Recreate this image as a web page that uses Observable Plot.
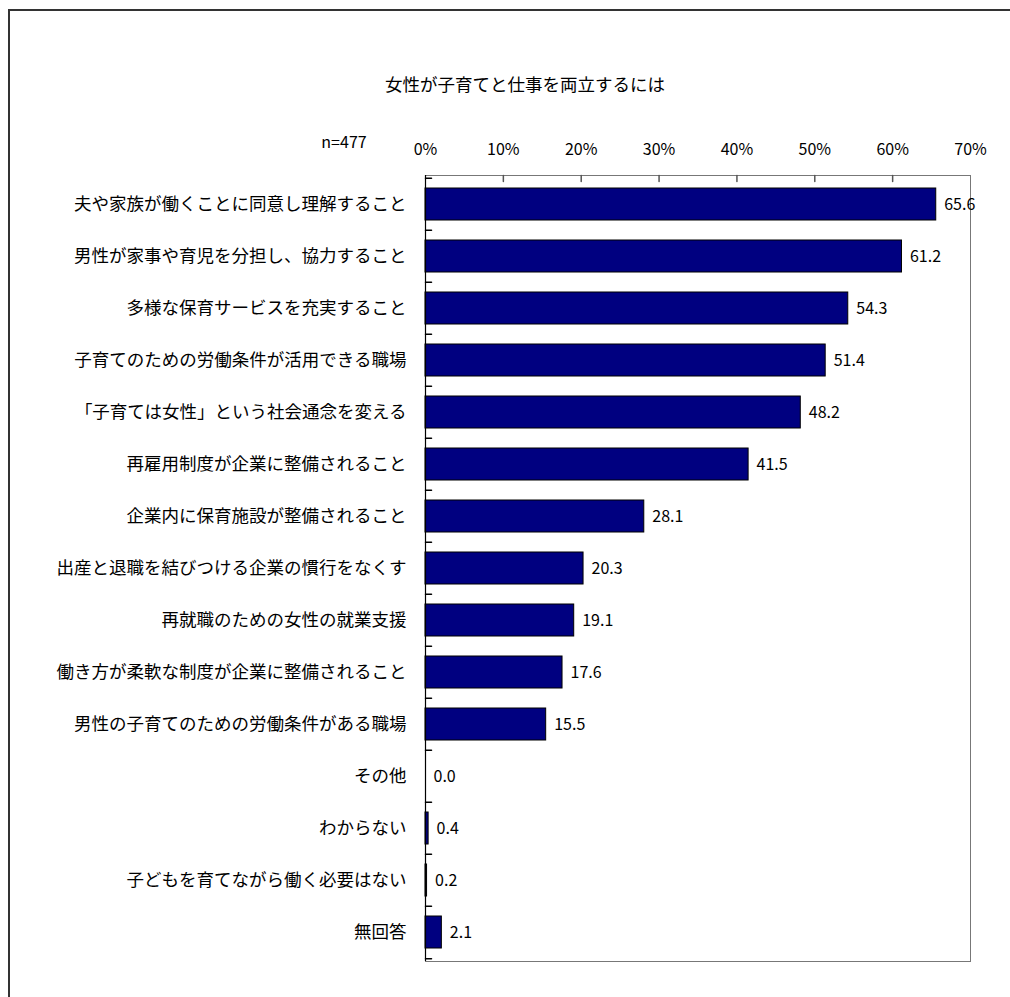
<!DOCTYPE html>
<html>
<head>
<meta charset="utf-8">
<script src="https://cdn.jsdelivr.net/npm/d3@7"></script>
<script src="https://cdn.jsdelivr.net/npm/@observablehq/plot@0.6"></script>
<style>
  html, body { margin: 0; padding: 0; background: #fff; overflow: hidden; }
  #wrap { position: relative; width: 1010px; height: 997px; overflow: hidden; font-family: "Noto Sans CJK JP", sans-serif; }
  #bTop { position: absolute; left: 8px; top: 9px; width: 1100px; height: 2px; background: #333; }
  #bLeft { position: absolute; left: 8px; top: 9px; width: 2px; height: 1100px; background: #333; }
  #header { position: relative; height: 120px; }
  #title { position: absolute; left: 0; width: 1050px; top: 71px; text-align: center; font-size: 17.5px; color: #000; }
  #n { position: absolute; left: 306px; top: 129px; width: 76px; text-align: center; font-size: 16px; color: #000; }
  #chart svg { display: block; }
</style>
</head>
<body>
<div id="wrap">
  <div id="bTop"></div>
  <div id="bLeft"></div>
  <div id="header">
    <div id="title">女性が子育てと仕事を両立するには</div>
    <div id="n">n=477</div>
  </div>
  <div id="chart"></div>
</div>
<script>
const categories = [
  "夫や家族が働くことに同意し理解すること",
  "男性が家事や育児を分担し、協力すること",
  "多様な保育サービスを充実すること",
  "子育てのための労働条件が活用できる職場",
  "「子育ては女性」という社会通念を変える",
  "再雇用制度が企業に整備されること",
  "企業内に保育施設が整備されること",
  "出産と退職を結びつける企業の慣行をなくす",
  "再就職のための女性の就業支援",
  "働き方が柔軟な制度が企業に整備されること",
  "男性の子育てのための労働条件がある職場",
  "その他",
  "わからない",
  "子どもを育てながら働く必要はない",
  "無回答"
];
const values = [65.6, 61.2, 54.3, 51.4, 48.2, 41.5, 28.1, 20.3, 19.1, 17.6, 15.5, 0.0, 0.4, 0.2, 2.1];
const xTicks = [0, 10, 20, 30, 40, 50, 60, 70];

const data = categories.map((c, i) => ({category: c, value: values[i]}));

const W = 1010, H = 877, MT = 55, MB = 36, ML = 425, MR = 40;
const step = (H - MT - MB) / categories.length;
const font = "'Noto Sans CJK JP', sans-serif";

const tickShape = {
  draw(context, l) { context.moveTo(0, 0); context.lineTo(0, -l); }
};

const chart = Plot.plot({
  width: W,
  height: H,
  marginTop: MT,
  marginBottom: MB,
  marginLeft: ML,
  marginRight: MR,
  style: {fontFamily: font, fontSize: "16px", color: "#000", background: "transparent"},
  x: {domain: [0, 70], label: null},
  y: {domain: categories, paddingInner: 0.39, paddingOuter: 0.195, label: null},
  marks: [
    Plot.barX(data, {y: "category", x: "value", fill: "#000080", stroke: "#000", strokeWidth: 1}),
    Plot.frame({stroke: "#777"}),
    Plot.ruleX([0], {stroke: "#000", strokeWidth: 1.2}),
    Plot.vector(xTicks.slice(1, -1), {x: d => d, frameAnchor: "top", length: 6, rotate: 180, anchor: "start", shape: tickShape, stroke: "#555"}),
    Plot.vector(categories, {y: d => d, frameAnchor: "left", length: 6, rotate: 90, anchor: "start", shape: tickShape, stroke: "#000", dy: -step / 2}),
    Plot.vector([categories[categories.length - 1]], {y: d => d, frameAnchor: "left", length: 6, rotate: 90, anchor: "start", shape: tickShape, stroke: "#000", dy: step / 2}),
    Plot.text(data, {x: "value", y: "category", text: d => d.value.toFixed(1), dx: 8, textAnchor: "start", fontSize: 16, fill: "#000"}),
    Plot.axisX({anchor: "top", ticks: xTicks, tickSize: 0, tickPadding: 21, tickFormat: d => d + "%", fontSize: 16, label: null}),
    Plot.axisY({anchor: "left", tickSize: 0, tickPadding: 19, fontSize: 17.5, label: null})
  ]
});
document.getElementById("chart").appendChild(chart);
</script>
</body>
</html>
